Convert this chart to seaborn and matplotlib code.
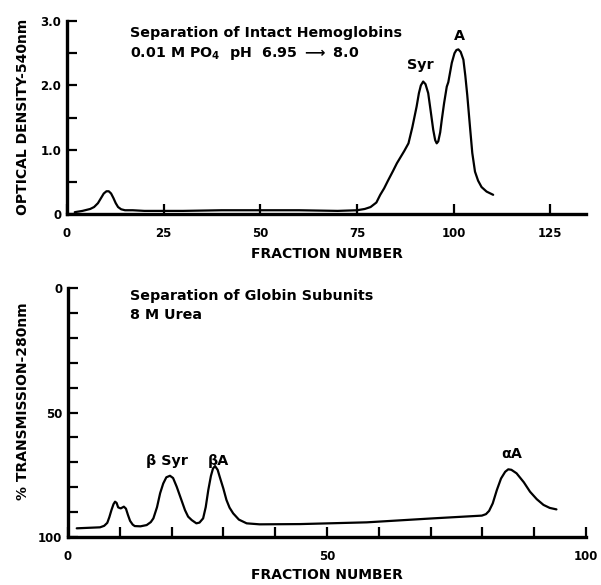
import numpy as np
import pandas as pd
import matplotlib
matplotlib.use("Agg")
import matplotlib.pyplot as plt
import seaborn as sns

# top panel: intact hemoglobins, optical density at 540 nm
hb_fraction = [2, 4, 6, 7, 8, 8.8, 9.5, 10.2, 10.8, 11.4, 12, 12.6, 13.2, 14, 15, 17, 20,
               30, 40, 50, 60, 70, 75, 77, 78.5, 80, 81, 82, 83, 84.3, 85.3, 86.2, 87.2,
               88.3, 89.3, 90.4, 91.0, 91.5, 92.1, 92.7, 93.4, 94.0, 94.7, 95.2, 95.6,
               96.0, 96.5, 96.9, 97.5, 98.2, 98.6, 99.5, 100.2, 100.7, 101.2, 101.8,
               102.5, 103.0, 103.5, 104.2, 104.8, 105.5, 106.3, 107.2, 108.5, 110.2]
hb_od = [0.03, 0.05, 0.08, 0.11, 0.17, 0.25, 0.32, 0.355, 0.355, 0.32, 0.25, 0.17, 0.11,
         0.075, 0.06, 0.06, 0.05, 0.05, 0.06, 0.06, 0.06, 0.05, 0.06, 0.08, 0.11, 0.18,
         0.30, 0.40, 0.52, 0.67, 0.79, 0.88, 0.98, 1.10, 1.35, 1.67, 1.88, 2.00, 2.06,
         2.02, 1.88, 1.62, 1.31, 1.15, 1.10, 1.13, 1.27, 1.46, 1.72, 1.98, 2.05, 2.35,
         2.50, 2.55, 2.56, 2.52, 2.40, 2.15, 1.85, 1.36, 0.95, 0.66, 0.52, 0.42, 0.35,
         0.30]

# bottom panel: globin subunits, % transmission at 280 nm
gl_fraction = [1.7, 6.2, 7.0, 7.6, 8.0, 8.4, 8.8, 9.1, 9.4, 9.7, 10.2, 10.8, 11.2, 11.6,
               12.0, 12.5, 12.9, 14, 15.2, 16.0, 16.5, 17.2, 17.8, 18.4, 19.0, 19.7,
               20.3, 21.0, 21.8, 22.6, 23.2, 23.9, 24.8, 25.4, 26.1, 26.6, 27.1, 27.6,
               28.0, 28.4, 28.9, 29.3, 30.0, 30.6, 31.2, 31.9, 33.0, 34.5, 37, 44.8,
               57.7, 70.5, 79.9, 80.7, 81.3, 82, 82.8, 83.6, 84.4, 85.0, 85.6, 86.6,
               88, 89.2, 90.5, 91.8, 93.0, 94.3]
gl_trans = [96.5, 96.1, 95.5, 94.3, 92.0, 89.2, 86.8, 85.8, 86.3, 88.1, 88.5, 87.8, 88.6,
            91.2, 93.5, 95.0, 95.6, 95.7, 95.2, 94.0, 92.5, 88.0, 82.4, 78.5, 76.0,
            75.4, 76.3, 79.8, 84.5, 89.2, 91.8, 93.2, 94.5, 94.2, 92.5, 88.0, 81.1,
            75.5, 72.5, 71.5, 73.0, 75.8, 80.5, 85.1, 88.2, 90.5, 93.0, 94.5, 94.9,
            94.8, 94.1, 92.5, 91.4, 90.8, 89.5, 86.5, 81.1, 76.5, 73.8, 72.8, 73.0,
            74.4, 78.0, 81.8, 84.8, 87.1, 88.3, 88.9]

top_ticks = [0, 25, 50, 75, 100, 125]
bot_ticks = [0, 50, 100]

sns.set_style("ticks")
plt.rcParams["font.family"] = ["DejaVu Sans"]
plt.rcParams["font.weight"] = "bold"
plt.rcParams["mathtext.fontset"] = "dejavusans"
plt.rcParams["mathtext.default"] = "bf"
for key in ("text.color", "axes.labelcolor", "xtick.color", "ytick.color", "axes.edgecolor"):
    plt.rcParams[key] = "black"

fig = plt.figure(figsize=(6.01, 5.85), dpi=100)
ax1 = fig.add_axes([0.1115, 0.634, 0.8635, 0.330])
ax2 = fig.add_axes([0.113, 0.082, 0.862, 0.4256])

df_hb = pd.DataFrame({"fraction": hb_fraction, "od": hb_od})
df_gl = pd.DataFrame({"fraction": gl_fraction, "trans": gl_trans})

sns.lineplot(data=df_hb, x="fraction", y="od", ax=ax1, color="black", lw=1.6)
sns.lineplot(data=df_gl, x="fraction", y="trans", ax=ax2, color="black", lw=1.6)

for ax in (ax1, ax2):
    sns.despine(ax=ax)
    for s in ("left", "bottom"):
        ax.spines[s].set_linewidth(2.4)
    ax.tick_params(which="both", direction="in", width=1.6, length=7, labelsize=8.5)
    ax.tick_params(axis="x", pad=9)
    ax.tick_params(axis="y", pad=4)

# top axes
ax1.set_xlim(0, 134.2)
ax1.set_ylim(0, 3.0)
ax1.set_xticks(top_ticks)
ax1.set_xticklabels([str(t) for t in top_ticks])
ax1.set_yticks([0, 1.0, 2.0, 3.0])
ax1.set_yticklabels(["0", "1.0", "2.0", "3.0"])
ax1.set_yticks([0.5, 1.5, 2.5], minor=True)
ax1.set_xlabel("FRACTION NUMBER", fontsize=10, fontweight="bold", labelpad=5)
ax1.set_ylabel("OPTICAL DENSITY-540nm", fontsize=10, fontweight="bold")
ax1.yaxis.set_label_coords(-0.071, 0.503)
ax1.text(0.121, 0.938, "Separation of Intact Hemoglobins", transform=ax1.transAxes,
         fontsize=10.3, va="center")
ax1.text(0.121, 0.834, r"0.01 M PO$_4$  pH  6.95 $\longrightarrow$ 8.0",
         transform=ax1.transAxes, fontsize=10.3, va="center")
ax1.text(91.3, 2.32, "Syr", fontsize=10.3, ha="center", va="center")
ax1.text(101.4, 2.77, "A", fontsize=10.3, ha="center", va="center")

# bottom axes
ax2.set_xlim(0, 100)
ax2.set_ylim(100, 0)
ax2.set_xticks(bot_ticks)
ax2.set_xticklabels([str(t) for t in bot_ticks])
ax2.set_xticks(np.arange(10, 100, 10), minor=True)
ax2.set_yticks([0, 50, 100])
ax2.set_yticklabels(["0", "50", "100"])
ax2.set_yticks(np.arange(10, 100, 10), minor=True)
ax2.set_xlabel("FRACTION NUMBER", fontsize=10, fontweight="bold", labelpad=4)
ax2.set_ylabel("% TRANSMISSION-280nm", fontsize=10, fontweight="bold")
ax2.yaxis.set_label_coords(-0.073, 0.546)
ax2.text(0.12, 0.968, "Separation of Globin Subunits", transform=ax2.transAxes,
         fontsize=10.3, va="center")
ax2.text(0.12, 0.892, "8 M Urea", transform=ax2.transAxes, fontsize=10.3, va="center")
ax2.text(19.2, 69.5, "\u03b2 Syr", fontsize=10.3, ha="center", va="center")
ax2.text(29.0, 69.5, "\u03b2A", fontsize=10.3, ha="center", va="center")
ax2.text(85.7, 66.7, "\u03b1A", fontsize=10.3, ha="center", va="center")

fig.savefig("out.png", dpi=100)
